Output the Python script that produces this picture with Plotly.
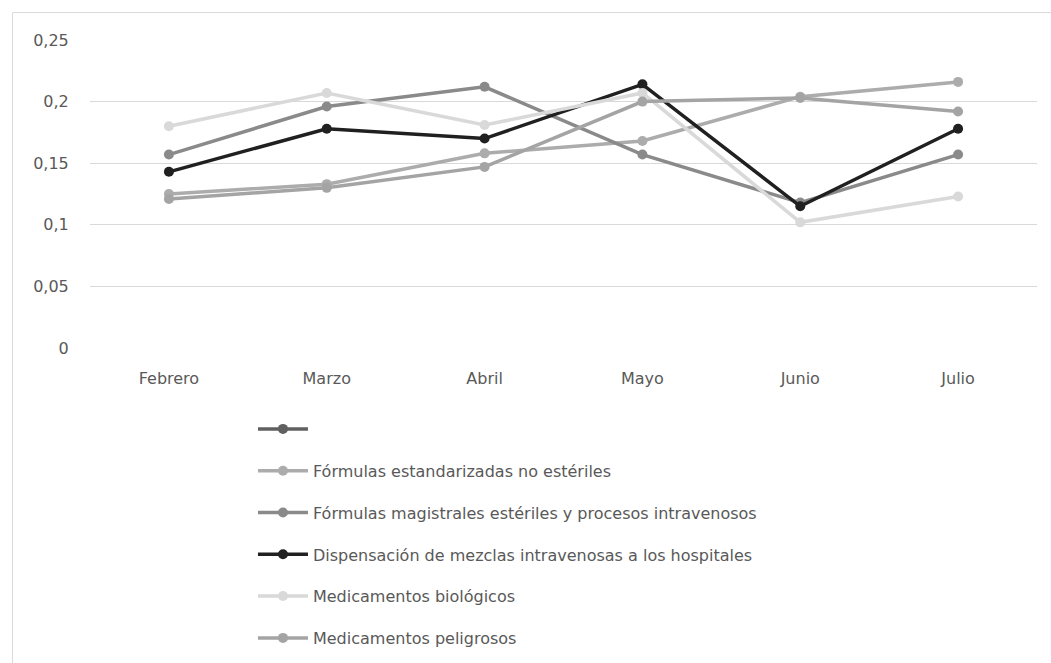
import plotly.graph_objects as go

# Monthly proportions per production area (Febrero-Julio)
months = ["Febrero", "Marzo", "Abril", "Mayo", "Junio", "Julio"]

series_names = [
    "",
    "Fórmulas estandarizadas no estériles",
    "Fórmulas magistrales estériles y procesos intravenosos",
    "Dispensación de mezclas intravenosas a los hospitales",
    "Medicamentos biológicos",
    "Medicamentos peligrosos",
]

unnamed = [None, None, None, None, None, None]
estandarizadas = [0.125, 0.133, 0.158, 0.168, 0.204, 0.216]
magistrales = [0.157, 0.196, 0.212, 0.157, 0.118, 0.157]
dispensacion = [0.143, 0.178, 0.170, 0.214, 0.115, 0.178]
biologicos = [0.180, 0.207, 0.181, 0.207, 0.102, 0.123]
peligrosos = [0.121, 0.130, 0.147, 0.200, 0.203, 0.192]

y_ticks = [0, 0.05, 0.1, 0.15, 0.2, 0.25]

values = [unnamed, estandarizadas, magistrales, dispensacion, biologicos, peligrosos]
colors = ["#606060", "#acacac", "#8a8a8a", "#202020", "#d9d9d9", "#a4a4a4"]

FONT = "DejaVu Sans"
TEXT = "#595959"
FS = 16

fig = go.Figure()
for i, (name, vals, col) in enumerate(zip(series_names, values, colors)):
    fig.add_trace(go.Scatter(
        x=months, y=vals, name=name, mode="lines+markers",
        line=dict(color=col, width=3.5),
        marker=dict(color=col, size=10),
        legendgroup=f"g{i}", showlegend=True,
    ))

# Light frame around the chart area
fig.add_shape(type="rect", xref="paper", yref="paper",
              x0=-0.0818, x1=1.2, y0=-1.2, y1=1.0893,
              line=dict(color="#d9d9d9", width=1), fillcolor="rgba(0,0,0,0)",
              layer="below")

fig.update_layout(
    width=1051, height=663,
    margin=dict(l=90, r=14, t=40, b=315, autoexpand=False),
    paper_bgcolor="white", plot_bgcolor="white",
    separators=",.",
    font=dict(family=FONT, size=FS, color=TEXT),
    showlegend=True,
    legend=dict(
        xref="container", yref="container",
        x=0.2407, y=0.3786, xanchor="left", yanchor="top",
        orientation="v", tracegroupgap=18,
        font=dict(family=FONT, size=FS, color=TEXT),
        itemwidth=50, bgcolor="rgba(0,0,0,0)",
    ),
    xaxis=dict(
        range=[-0.5, 5.5],
        showgrid=False, showline=False, zeroline=False,
        ticks="outside", ticklen=16, tickcolor="rgba(0,0,0,0)",
        tickfont=dict(family=FONT, size=FS, color=TEXT),
    ),
    yaxis=dict(
        range=[0, 0.25], tickvals=y_ticks,
        showgrid=True, gridcolor="#d9d9d9", gridwidth=1,
        zeroline=False, showline=False,
        ticks="outside", ticklen=17, tickcolor="rgba(0,0,0,0)",
        tickfont=dict(family=FONT, size=FS, color=TEXT),
    ),
)

fig.write_html("out.html")
